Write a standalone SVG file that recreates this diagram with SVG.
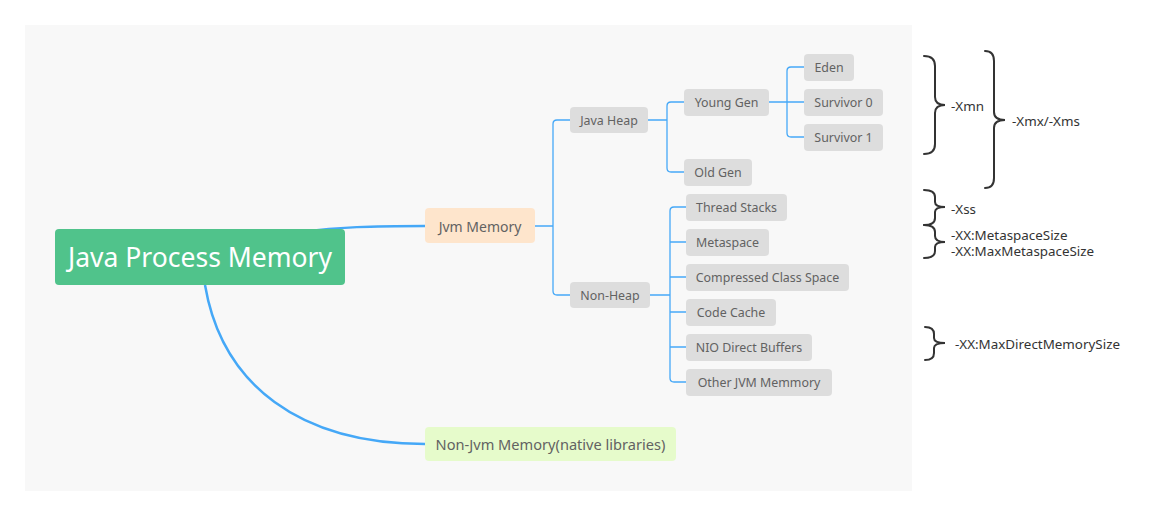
<svg xmlns="http://www.w3.org/2000/svg" width="1169" height="516" viewBox="0 0 1169 516">
<style>
.n{fill:#dddddd}
.t{font-family:"Noto Sans","Open Sans",sans-serif;font-size:12.4px;fill:#626262;text-anchor:middle;dominant-baseline:central}
.c{fill:none;stroke:#45a8f7;stroke-width:1.3}
.m{fill:none;stroke:#45a8f7;stroke-width:2.5}
.b{fill:none;stroke:#333;stroke-width:2;stroke-linecap:round}
.bt{font-family:"Noto Sans","Open Sans",sans-serif;font-size:13.4px;fill:#333;dominant-baseline:central}
</style>
<rect width="1169" height="516" fill="#ffffff"/>
<rect x="25" y="25" width="887" height="466" fill="#f8f8f8"/>
<g id="connectors">
<path class="m" d="M300 232 C340 227 370 226 425 226"/>
<path class="m" d="M205 285 C222 385 300 444 425 444"/>
<path class="c" d="M535 226 H553 M570 120 H557 Q553 120 553 124 V291 Q553 295 557 295 H570"/>
<path class="c" d="M648 120 H667 M684 102 H671 Q667 102 667 106 V168 Q667 172 671 172 H684"/>
<path class="c" d="M769 102 H804 M804 67 H791 Q787 67 787 71 V133 Q787 137 791 137 H804"/>
<path class="c" d="M650 295 H670 M686 207 H674 Q670 207 670 211 V378 Q670 382 674 382 H686 M670 242 H686 M670 277 H686 M670 312 H686 M670 347 H686"/>
</g>
<g id="root"><rect x="55" y="229" width="290" height="56" rx="4" fill="#50c38b"/><text x="200" y="257" font-family="Noto Sans,Open Sans,sans-serif" font-size="26.5" fill="#fff" text-anchor="middle" dominant-baseline="central">Java Process Memory</text></g>
<g id="jvm-memory"><rect x="425" y="208" width="110" height="35" rx="4" fill="#fee5cc"/><text class="t" x="480" y="226" style="font-size:14px">Jvm Memory</text></g>
<g id="non-jvm-memory"><rect x="425" y="427" width="251" height="34" rx="4" fill="#e6fbcb"/><text class="t" x="550.5" y="444" style="font-size:14.6px">Non-Jvm Memory(native libraries)</text></g>
<g id="java-heap"><rect class="n" x="570" y="107" width="78" height="26" rx="4"/><text class="t" x="609" y="120">Java Heap</text></g>
<g id="non-heap"><rect class="n" x="570" y="282" width="80" height="26" rx="4"/><text class="t" x="610" y="295">Non-Heap</text></g>
<g id="young-gen"><rect class="n" x="684" y="89" width="85" height="27" rx="4"/><text class="t" x="726.5" y="102">Young Gen</text></g>
<g id="old-gen"><rect class="n" x="684" y="159" width="68" height="27" rx="4"/><text class="t" x="718" y="172">Old Gen</text></g>
<g id="eden"><rect class="n" x="804" y="54" width="50" height="27" rx="4"/><text class="t" x="829" y="67">Eden</text></g>
<g id="survivor-0"><rect class="n" x="804" y="89" width="79" height="27" rx="4"/><text class="t" x="843.5" y="102">Survivor 0</text></g>
<g id="survivor-1"><rect class="n" x="804" y="124" width="79" height="27" rx="4"/><text class="t" x="843.5" y="137">Survivor 1</text></g>
<g id="thread-stacks"><rect class="n" x="686" y="194" width="101" height="27" rx="4"/><text class="t" x="736.5" y="207">Thread Stacks</text></g>
<g id="metaspace"><rect class="n" x="686" y="229" width="83" height="27" rx="4"/><text class="t" x="727.5" y="242">Metaspace</text></g>
<g id="compressed-class-space"><rect class="n" x="686" y="264" width="163" height="27" rx="4"/><text class="t" x="767.5" y="277">Compressed Class Space</text></g>
<g id="code-cache"><rect class="n" x="686" y="299" width="90" height="27" rx="4"/><text class="t" x="731" y="312">Code Cache</text></g>
<g id="nio-direct-buffers"><rect class="n" x="686" y="334" width="126" height="27" rx="4"/><text class="t" x="749" y="347">NIO Direct Buffers</text></g>
<g id="other-jvm-memmory"><rect class="n" x="686" y="369" width="146" height="27" rx="4"/><text class="t" x="759" y="382">Other JVM Memmory</text></g>
<g id="braces">
<path class="b" d="M924 56 Q935 56 935 66 V97 Q935 105 945 105 Q935 105 935 113 V144 Q935 154 924 154"/>
<text class="bt" x="951" y="106">-Xmn</text>
<path class="b" d="M985 51 Q994 51 994 61 V112 Q994 120 1005 120 Q994 120 994 128 V178 Q994 188 985 188"/>
<text class="bt" x="1012" y="121">-Xmx/-Xms</text>
<path class="b" d="M924 190 Q935 190 935 197 V202 Q935 207 945 207 Q935 207 935 212 V218 Q935 225 924 225"/>
<text class="bt" x="951" y="209">-Xss</text>
<path class="b" d="M924 225 Q935 225 935 232 V236 Q935 242 945 242 Q935 242 935 247 V251 Q935 258 924 258"/>
<text class="bt" x="951" y="235">-XX:MetaspaceSize</text>
<text class="bt" x="951" y="251">-XX:MaxMetaspaceSize</text>
<path class="b" d="M925 327 Q934 327 934 334 V338 Q934 343 945 343 Q934 343 934 348 V353 Q934 360 925 360"/>
<text class="bt" x="955" y="344">-XX:MaxDirectMemorySize</text>
</g>
</svg>
